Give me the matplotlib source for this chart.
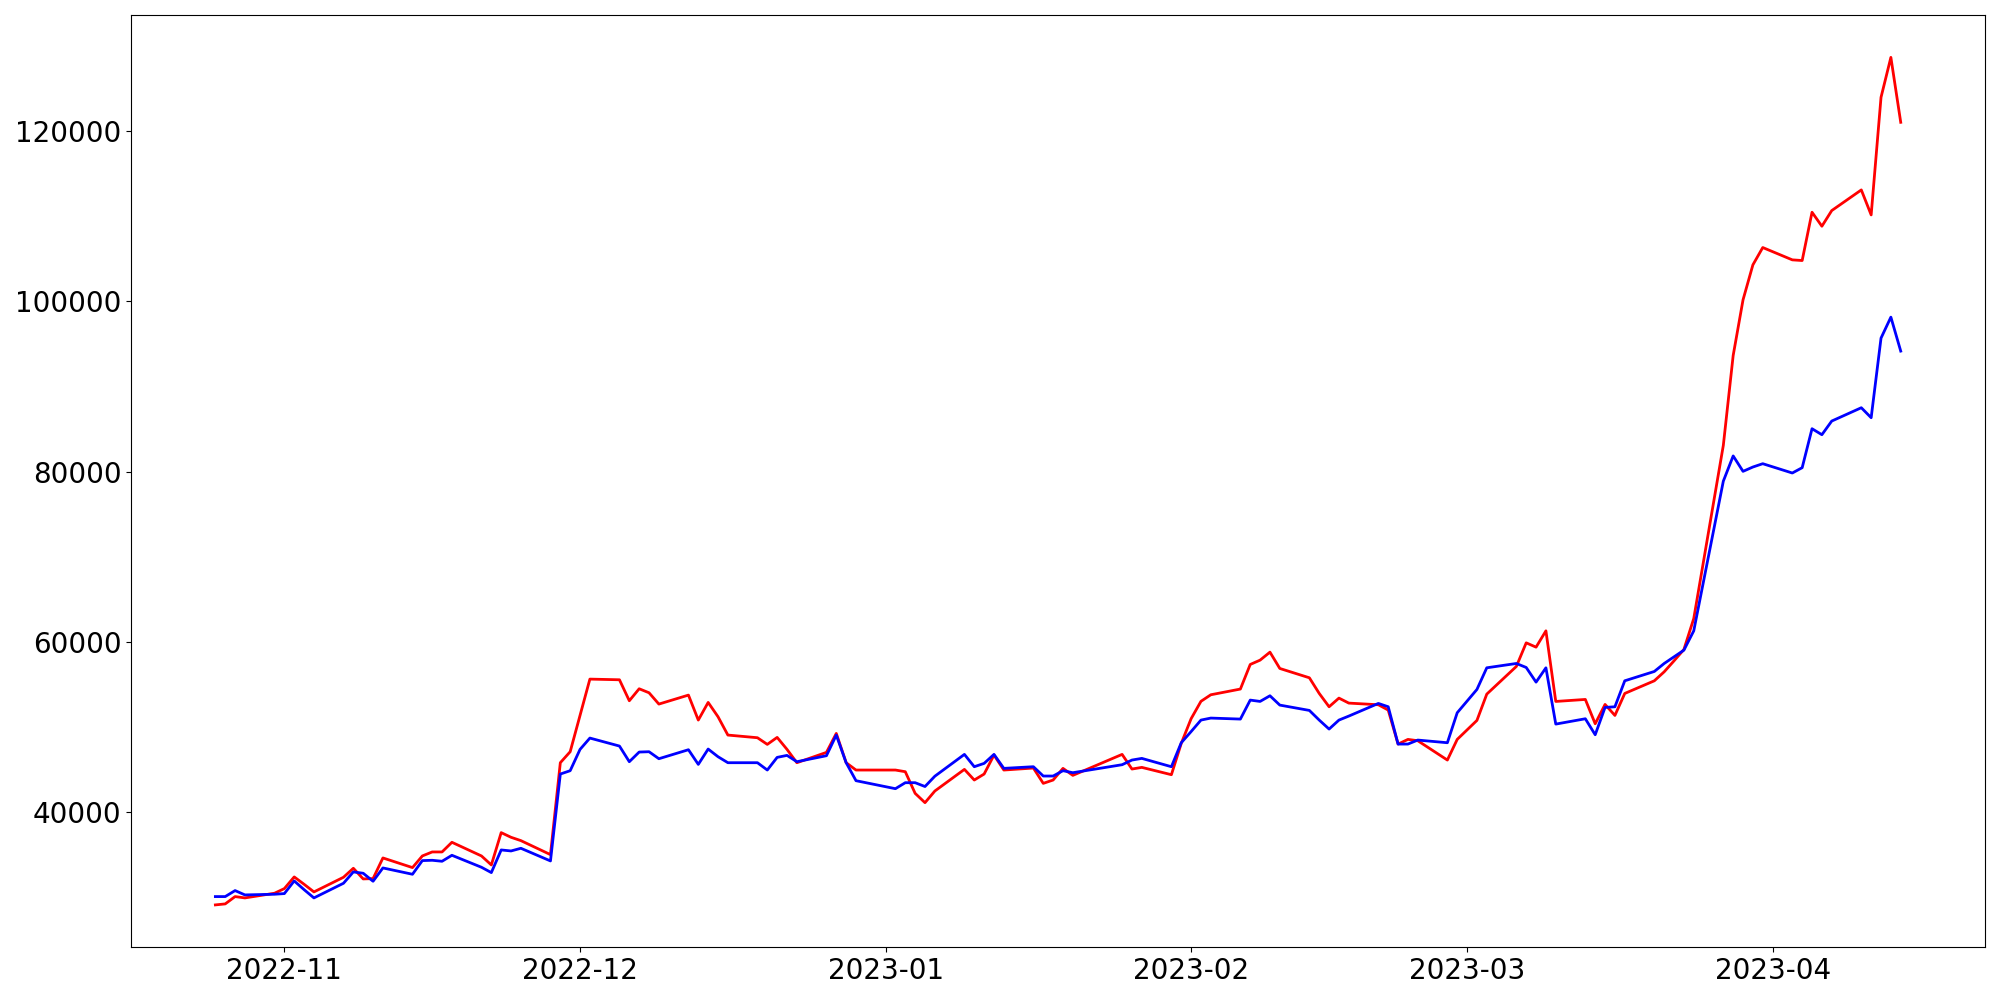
import pandas as pd
import matplotlib
matplotlib.use("Agg")
import matplotlib.pyplot as plt

dates = [
    "2022-10-25", "2022-10-26", "2022-10-27", "2022-10-28", "2022-10-31",
    "2022-11-01", "2022-11-02", "2022-11-03", "2022-11-04", "2022-11-07",
    "2022-11-08", "2022-11-09", "2022-11-10", "2022-11-11", "2022-11-14",
    "2022-11-15", "2022-11-16", "2022-11-17", "2022-11-18", "2022-11-21",
    "2022-11-22", "2022-11-23", "2022-11-24", "2022-11-25", "2022-11-28",
    "2022-11-29", "2022-11-30", "2022-12-01", "2022-12-02", "2022-12-05",
    "2022-12-06", "2022-12-07", "2022-12-08", "2022-12-09", "2022-12-12",
    "2022-12-13", "2022-12-14", "2022-12-15", "2022-12-16", "2022-12-19",
    "2022-12-20", "2022-12-21", "2022-12-22", "2022-12-23", "2022-12-26",
    "2022-12-27", "2022-12-28", "2022-12-29", "2023-01-02", "2023-01-03",
    "2023-01-04", "2023-01-05", "2023-01-06", "2023-01-09", "2023-01-10",
    "2023-01-11", "2023-01-12", "2023-01-13", "2023-01-16", "2023-01-17",
    "2023-01-18", "2023-01-19", "2023-01-20", "2023-01-25", "2023-01-26",
    "2023-01-27", "2023-01-30", "2023-01-31", "2023-02-01", "2023-02-02",
    "2023-02-03", "2023-02-06", "2023-02-07", "2023-02-08", "2023-02-09",
    "2023-02-10", "2023-02-13", "2023-02-14", "2023-02-15", "2023-02-16",
    "2023-02-17", "2023-02-20", "2023-02-21", "2023-02-22", "2023-02-23",
    "2023-02-24", "2023-02-27", "2023-02-28", "2023-03-02", "2023-03-03",
    "2023-03-06", "2023-03-07", "2023-03-08", "2023-03-09", "2023-03-10",
    "2023-03-13", "2023-03-14", "2023-03-15", "2023-03-16", "2023-03-17",
    "2023-03-20", "2023-03-21", "2023-03-22", "2023-03-23", "2023-03-24",
    "2023-03-27", "2023-03-28", "2023-03-29", "2023-03-30", "2023-03-31",
    "2023-04-03", "2023-04-04", "2023-04-05", "2023-04-06", "2023-04-07",
    "2023-04-10", "2023-04-11", "2023-04-12", "2023-04-13", "2023-04-14",
]

red = [
    29158, 29275, 30134, 29978, 30525,
    31072, 32440, 31580, 30681, 32400,
    33455, 32205, 32244, 34667, 33534,
    34901, 35370, 35370, 36503, 34901,
    33846, 37636, 37089, 36698, 35057,
    45839, 47128, 51387, 55646, 55568,
    53107, 54513, 54044, 52716, 53771,
    50840, 52911, 51231, 49082, 48769,
    47988, 48808, 47401, 45839, 47050,
    49277, 45839, 44979, 44979, 44784,
    42244, 41150, 42518, 45057, 43807,
    44510, 46737, 44979, 45213, 43416,
    43807, 45174, 44354, 46815, 45096,
    45291, 44432, 48104, 51000, 53040,
    53809, 54480, 57364, 57872, 58809,
    56895, 55801, 53965, 52402, 53418,
    52832, 52637, 52012, 48026, 48573,
    48417, 46151, 48573, 50801, 53886,
    57130, 59902, 59394, 61308, 53026,
    53261, 50409, 52675, 51385, 53964,
    55448, 56503, 57793, 59121, 62754,
    83067, 93616, 100141, 104243, 106275,
    104829, 104751, 110416, 108775, 110611,
    113034, 110103, 123895, 128583, 120965,
]

blue = [
    30134, 30134, 30838, 30330, 30408,
    30486, 31970, 30950, 29978, 31697,
    33026, 32870, 31931, 33494, 32752,
    34354, 34393, 34276, 34979, 33573,
    32948, 35604, 35487, 35800, 34315,
    44510, 44901, 47401, 48730, 47792,
    45956, 47089, 47128, 46307, 47362,
    45643, 47441, 46542, 45839, 45839,
    44979, 46464, 46698, 45956, 46659,
    49082, 45839, 43729, 42791, 43494,
    43494, 43045, 44256, 46815, 45369,
    45760, 46815, 45174, 45369, 44276,
    44276, 44901, 44666, 45604, 46151,
    46346, 45369, 48182, 49490, 50840,
    51075, 50957, 53184, 53028, 53692,
    52598, 51973, 50840, 49785, 50840,
    51309, 52793, 52402, 48026, 48026,
    48495, 48182, 51699, 54434, 56973,
    57480, 57011, 55292, 56972, 50369,
    50995, 49119, 52323, 52401, 55448,
    56543, 57480, 58262, 59043, 61309,
    78869, 81828, 80019, 80527, 80917,
    79824, 80449, 85020, 84317, 85919,
    87482, 86310, 95648, 98110, 94125,
]

x = pd.to_datetime(dates)

fig, ax = plt.subplots(figsize=(20, 10), dpi=100)
ax.plot(x, red, color="red", linewidth=2)
ax.plot(x, blue, color="blue", linewidth=2)

ax.tick_params(axis="both", labelsize=20)

fig.tight_layout()
fig.savefig("out.png")
